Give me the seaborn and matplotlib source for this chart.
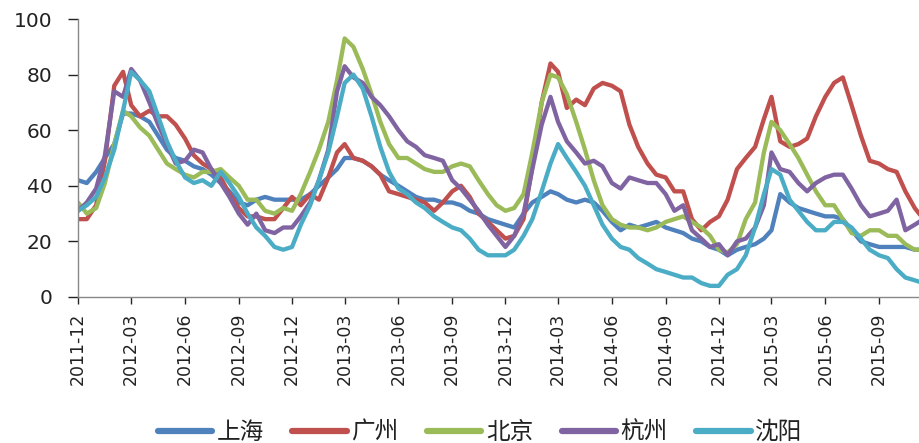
import numpy as np
import pandas as pd
import matplotlib
matplotlib.use("Agg")
import matplotlib.pyplot as plt
import seaborn as sns
from matplotlib.lines import Line2D

# semi-monthly observation dates (1st and 16th of each month)
months = pd.date_range("2011-12-01", "2015-11-01", freq="MS")
dates = []
for m in months:
    dates.append(m)
    dates.append(m + pd.Timedelta(days=15))

shanghai = [42, 41, 45, 50, 55, 66, 66, 65, 63, 58, 53, 50, 49, 47, 46, 44, 41, 38, 34, 33, 35, 36, 35, 35,
            35, 35, 37, 40, 43, 46, 50, 50, 49, 47, 44, 42, 40, 38, 36, 35, 35, 34, 34, 33, 31, 30, 28, 27,
            26, 25, 30, 34, 36, 38, 37, 35, 34, 35, 34, 31, 27, 24, 26, 25, 26, 27, 25, 24, 23, 21, 20, 18,
            17, 15, 17, 18, 19, 21, 24, 37, 34, 32, 31, 30, 29, 29, 28, 24, 20, 19, 18, 18, 18, 18, 17, 17]
guangzhou = [28, 28, 33, 49, 76, 81, 69, 65, 67, 65, 65, 62, 57, 51, 48, 46, 43, 37, 32, 29, 29, 28, 28, 32,
             36, 33, 37, 35, 43, 52, 55, 50, 49, 47, 44, 38, 37, 36, 35, 34, 31, 34, 38, 40, 36, 30, 27, 24,
             21, 22, 28, 47, 70, 84, 81, 68, 71, 69, 75, 77, 76, 74, 62, 54, 48, 44, 43, 38, 38, 28, 24, 27,
             29, 35, 46, 50, 54, 64, 72, 56, 54, 55, 57, 65, 72, 77, 79, 69, 58, 49, 48, 46, 45, 38, 32, 28]
beijing = [34, 30, 32, 41, 55, 67, 65, 61, 58, 53, 48, 46, 44, 43, 45, 45, 46, 43, 40, 35, 35, 31, 30, 32,
           31, 37, 45, 53, 63, 78, 93, 90, 82, 73, 63, 55, 50, 50, 48, 46, 45, 45, 47, 48, 47, 42, 37, 33,
           31, 32, 37, 52, 70, 80, 79, 73, 63, 53, 42, 33, 28, 26, 25, 25, 24, 25, 27, 28, 29, 27, 25, 22,
           17, 16, 19, 28, 34, 52, 63, 60, 55, 50, 44, 38, 33, 33, 28, 23, 22, 24, 24, 22, 22, 19, 17, 17]
hangzhou = [31, 34, 39, 51, 74, 72, 82, 78, 70, 62, 55, 48, 49, 53, 52, 46, 41, 36, 30, 26, 30, 24, 23, 25,
            25, 29, 34, 42, 53, 74, 83, 79, 77, 72, 69, 65, 60, 56, 54, 51, 50, 49, 42, 39, 35, 31, 26, 22,
            18, 22, 30, 46, 62, 72, 63, 56, 52, 48, 49, 47, 41, 39, 43, 42, 41, 41, 37, 31, 33, 24, 21, 18,
            19, 15, 20, 21, 25, 33, 52, 46, 45, 41, 38, 41, 43, 44, 44, 39, 33, 29, 30, 31, 35, 24, 26, 28]
shenyang = [31, 33, 36, 43, 53, 67, 81, 78, 74, 65, 56, 49, 43, 41, 42, 40, 45, 41, 36, 30, 25, 22, 18, 17,
            18, 26, 33, 42, 52, 65, 77, 80, 75, 65, 54, 45, 39, 37, 34, 32, 29, 27, 25, 24, 21, 17, 15, 15,
            15, 17, 22, 28, 38, 48, 55, 50, 45, 40, 33, 26, 21, 18, 17, 14, 12, 10, 9, 8, 7, 7, 5, 4,
            4, 8, 10, 15, 25, 37, 46, 44, 35, 31, 27, 24, 24, 27, 27, 25, 21, 17, 15, 14, 10, 7, 6, 5]

cities = ["上海", "广州", "北京", "杭州", "沈阳"]
series = [shanghai, guangzhou, beijing, hangzhou, shenyang]
colors = ["#4F81BD", "#C0504D", "#9BBB59", "#8064A2", "#4BACC6"]

tick_dates = pd.date_range("2011-12-01", "2015-09-01", freq="3MS")
tick_labels = [d.strftime("%Y-%m") for d in tick_dates]

df = pd.concat([pd.DataFrame({"date": dates, "value": v, "city": c}) for c, v in zip(cities, series)],
               ignore_index=True)

sns.set_theme(style="white")
plt.rcParams["font.family"] = ["DejaVu Sans", "Noto Sans CJK SC"]

fig = plt.figure(figsize=(9.2, 4.43), dpi=100)
ax = fig.add_axes([0.0848, 0.3296, 0.9152, 0.6275])

sns.lineplot(data=df, x="date", y="value", hue="city", hue_order=cities, palette=colors,
             linewidth=3.1, ax=ax, legend=False)

ax.set_xlim(pd.Timestamp("2011-12-01"), pd.Timestamp("2015-11-10"))
ax.set_ylim(0, 100)
ax.set_yticks([0, 20, 40, 60, 80, 100])
ax.set_xticks(tick_dates)
ax.set_xticklabels(tick_labels, rotation=90, fontsize=12.5, color="#222222")
ax.tick_params(axis="y", labelsize=14.5, colors="#222222", length=7.5, width=1,
               direction="out", left=True, pad=11)
ax.tick_params(axis="x", length=5, width=1, direction="out", bottom=True, pad=6)
for t in ax.yaxis.get_ticklines() + ax.xaxis.get_ticklines():
    t.set_color("#888888")
ax.set_xlabel("")
ax.set_ylabel("")
for s in ["top", "right"]:
    ax.spines[s].set_visible(False)
for s in ["left", "bottom"]:
    ax.spines[s].set_color("#888888")
    ax.spines[s].set_linewidth(1)

handles = [Line2D([0], [0], color=c, lw=4.5) for c in colors]
leg = fig.legend(handles, cities, loc="center", bbox_to_anchor=(0.522, 0.024), ncol=5, frameon=False,
                 handlelength=2.3, columnspacing=1.2, handletextpad=0.2,
                 prop={"family": ["Noto Sans CJK SC"], "size": 17, "weight": "light"})
for t in leg.get_texts():
    t.set_color("#222222")

fig.savefig("out.png", dpi=100)
